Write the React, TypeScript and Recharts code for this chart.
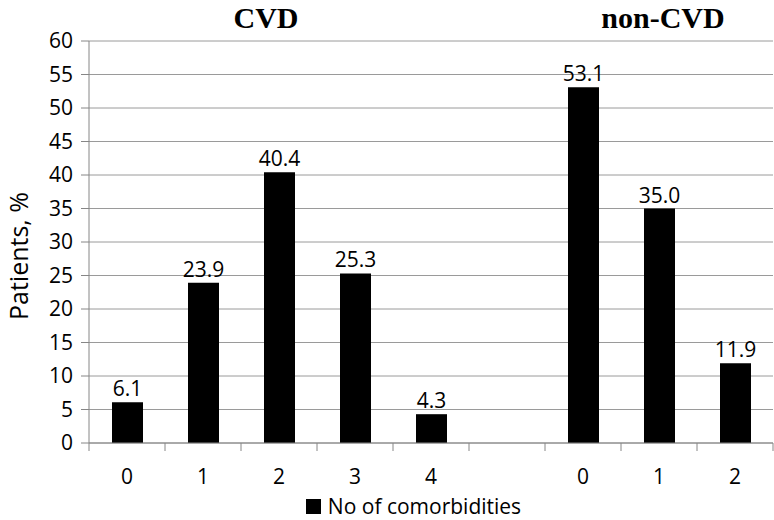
import React from "react";
import { BarChart, Bar, XAxis, YAxis, CartesianGrid, LabelList, Legend } from "recharts";

const categories = ["0", "1", "2", "3", "4", "", "0", "1", "2"];
const patients: (number | null)[] = [6.1, 23.9, 40.4, 25.3, 4.3, null, 53.1, 35.0, 11.9];
const yTicks = [0, 5, 10, 15, 20, 25, 30, 35, 40, 45, 50, 55, 60];
const groupTitles = [
  { label: "CVD", x: 266 },
  { label: "non-CVD", x: 663 },
];

const W = 774;
const H = 520;
const YW = 89;
const RIGHT = 1;
const FONT = "'Open Sans', 'DejaVu Sans', sans-serif";
const band = (W - YW - RIGHT) / categories.length;

const data = categories.map((c, i) => ({ cat: c, key: i, value: patients[i] }));

function XTick(props: any) {
  const { x, y, payload, index } = props;
  const last = index === categories.length - 1;
  return (
    <g>
      <line x1={x - band / 2} x2={x - band / 2} y1={y - 8} y2={y} stroke="#868686" />
      {last && <line x1={x + band / 2} x2={x + band / 2} y1={y - 8} y2={y} stroke="#868686" />}
      <text x={x} y={y + 33} textAnchor="middle" fontSize={21} fontFamily={FONT} fill="#000">
        {categories[payload.value]}
      </text>
    </g>
  );
}

export default function App() {
  return (
    <div style={{ position: "absolute", left: 0, top: 0, width: W, height: H, background: "#fff" }}>
      <BarChart width={W} height={H} data={data} margin={{ top: 41, right: RIGHT, left: 0, bottom: 0 }} barCategoryGap={0}>
        <CartesianGrid vertical={false} stroke="#9a9a9a" />
        <XAxis
          dataKey="key"
          type="category"
          height={45}
          tickLine={false}
          axisLine={{ stroke: "#868686" }}
          tick={<XTick />}
          interval={0}
        />
        <YAxis
          width={YW}
          domain={[0, 60]}
          ticks={yTicks}
          interval={0}
          tickSize={8}
          tickMargin={8}
          tickLine={{ stroke: "#868686" }}
          axisLine={{ stroke: "#868686" }}
          tick={{ fontSize: 21, fontFamily: FONT, fill: "#000" }}
        />
        <Legend
          height={32}
          verticalAlign="bottom"
          content={() => (
            <div style={{ display: "flex", justifyContent: "center", alignItems: "center", fontFamily: FONT, fontSize: 21, lineHeight: "24px", paddingLeft: 54, marginTop: 6 }}>
              <span style={{ display: "inline-block", width: 15, height: 15, background: "#000", marginRight: 7 }} />
              <span>No of comorbidities</span>
            </div>
          )}
        />
        <Bar dataKey="value" name="No of comorbidities" fill="#000" barSize={31} isAnimationActive={false}>
          <LabelList
            dataKey="value"
            position="top"
            offset={6}
            formatter={(v: any) => (v == null ? "" : Number(v).toFixed(1))}
            style={{ fontSize: 21, fontFamily: FONT, fill: "#000" }}
          />
        </Bar>
        {groupTitles.map((t) => (
          <text key={t.label} x={t.x} y={28} textAnchor="middle" fontSize={30} fontWeight="bold" fontFamily="'Liberation Serif', 'DejaVu Serif', serif" fill="#000">
            {t.label}
          </text>
        ))}
        <text x={28} y={256} textAnchor="middle" transform="rotate(-90 28 256)" fontSize={25} fontFamily={FONT} fill="#000">
          Patients, %
        </text>
      </BarChart>
    </div>
  );
}
